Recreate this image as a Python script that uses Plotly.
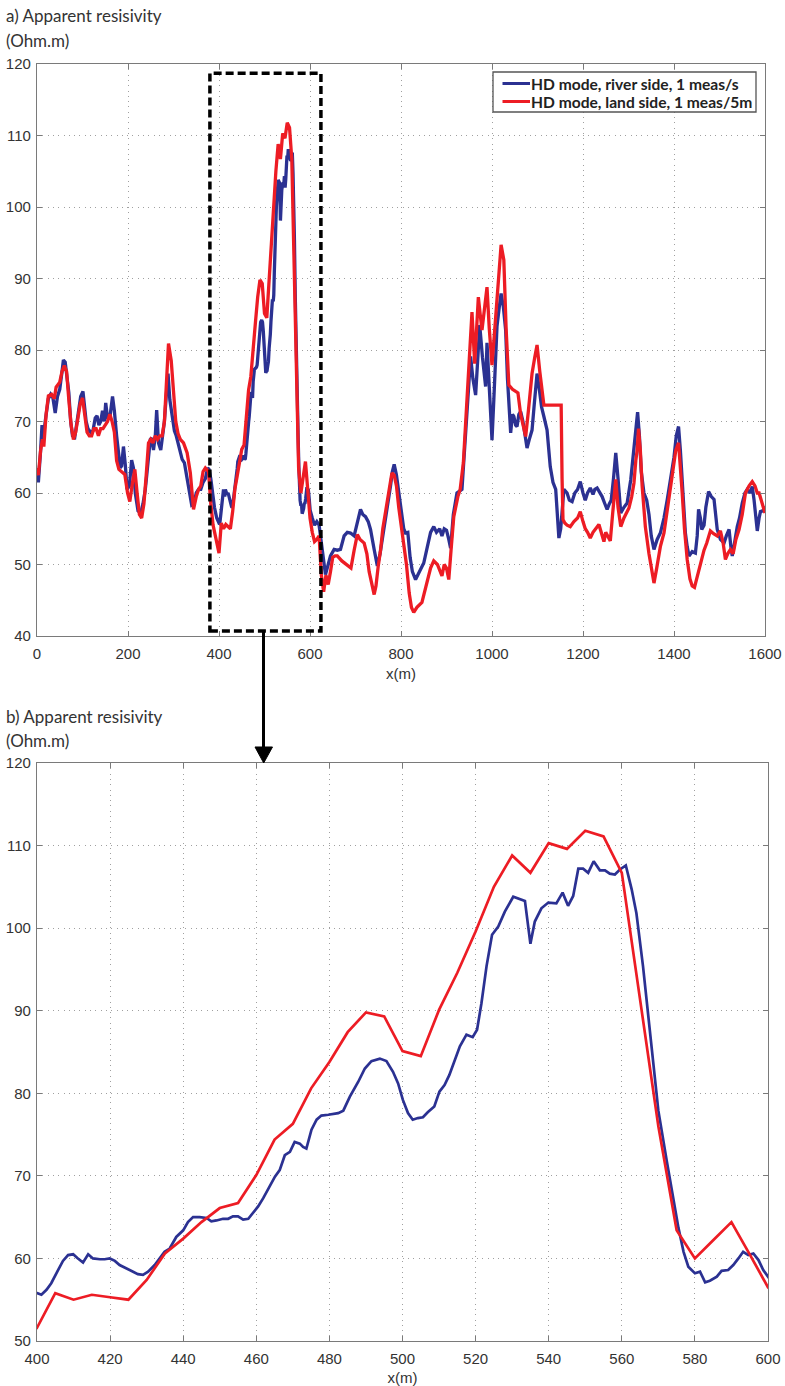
import plotly.graph_objects as go

# ---------------- data ----------------
blue_x = [0, 3, 8, 11, 14, 18, 25, 30, 35, 40, 45, 50, 55, 58, 62, 66, 70, 74, 78, 83, 88, 92, 96, 101, 104, 108,
          112, 118, 123, 128, 132, 136, 140, 144, 148, 151, 155, 160, 166, 170, 175, 179, 183, 186, 190, 194, 198,
          203, 208, 212, 216, 222, 228, 233, 238, 242, 246, 249, 252, 256, 260, 263, 267, 272, 276, 280, 284, 288,
          292, 297, 302, 306, 310, 315, 319, 324, 330, 336, 340, 345, 350, 355, 360, 365, 370, 375, 378, 382, 386,
          390, 395,
          400, 401.2, 402.6, 403.9, 405.3, 407.1, 408.5, 409.9, 411.2, 412.6, 414, 415.3, 417.2, 418.5, 419.9, 421.3,
          422.6, 424.5, 426.3, 427.6, 429, 430.4, 432.2, 433.6, 434.9, 436.3, 438.1, 440, 441.3, 442.7, 444.5, 446.4,
          447.7, 449.1, 450.9, 452.3, 453.6, 455, 456.4, 457.8, 459.1, 460.5, 461.9, 463.7, 465.1, 466.4, 467.8,
          469.2, 470.5, 471.9, 472.8, 473.7, 475.1, 476.5, 477.8, 479.7, 481, 482.4, 483.8, 485.6, 487.9, 489.7,
          491.5, 493.8, 495.6, 497.4, 498.8, 500.1, 501.5, 502.8, 504.2, 505.6, 506.9, 508.7, 510.1, 511.5, 512.8,
          514.2, 515.7, 517.5, 519.2, 520.4, 521.6, 523, 524.5, 526.2, 528, 530.3, 532.1, 533.5, 535, 536.2, 538,
          539.9, 542.1, 543.8, 545.3, 546.7, 548.1, 549.4, 550.8, 552.3, 554, 555.4, 556.7, 558.1, 559.5, 561.1,
          562.7, 564, 565.8, 567.7, 568.6, 570, 572.3, 574.1, 575.5, 576.9, 578.2, 580, 581.4, 582.8, 584.1, 586,
          587.3, 589.1, 590.5, 591.9, 593.2, 594.6, 596, 597.4, 598.7, 600.3,
          605, 610, 615, 620, 625, 630, 634, 640, 645, 653, 660, 667, 675, 682, 689, 697, 704, 711, 716, 722, 728,
          733, 741, 748, 754, 759, 765, 770, 777, 781, 785, 790, 795, 800, 806, 810, 815, 820, 825, 832, 840, 850,
          858, 865, 872, 878, 885, 890, 895, 900, 905, 909, 915, 923, 934, 941, 948, 953, 958, 964, 968, 973, 979,
          983, 986, 989, 993, 997, 1000, 1004, 1008, 1011, 1016, 1020, 1025, 1030, 1034, 1038, 1041, 1045, 1048,
          1052, 1055, 1059, 1063, 1068, 1073, 1077, 1082, 1088, 1093, 1099, 1104, 1109, 1114, 1121, 1128, 1134,
          1140, 1144, 1147, 1151, 1158, 1165, 1170, 1176, 1182, 1188, 1194, 1200, 1205, 1210, 1216, 1222, 1226,
          1231, 1237, 1242, 1248, 1253, 1258, 1262, 1267, 1272, 1277, 1283, 1290, 1297, 1305, 1312, 1317, 1320,
          1324, 1328, 1334, 1340, 1345, 1350, 1356, 1363, 1370, 1378, 1385, 1390, 1395, 1400, 1405, 1410, 1414,
          1418, 1422, 1425, 1429, 1433, 1440, 1447, 1451, 1454, 1458, 1461, 1466, 1470, 1476, 1482, 1488, 1492,
          1495, 1502, 1510, 1515, 1521, 1525, 1528, 1533, 1539, 1544, 1550, 1556, 1561, 1567, 1572, 1576, 1580,
          1583, 1587, 1590, 1595, 1600]
blue_y = [62.5, 61.5, 66, 69.5, 67.5, 70, 73.2, 73.8, 73.3, 71.2, 73.5, 74.5, 77, 78.6, 78.3, 76.5, 74, 70, 68, 67.8,
          70, 72, 73.5, 74.2, 72, 70, 69, 68.5, 68.7, 70.5, 70.8, 69.5, 70, 71.5, 70, 72.6, 70.5, 70.5, 73.5, 71.5,
          68, 65.5, 63.5, 63.8, 66.5, 64, 60.5, 61, 64.6, 63.5, 60, 57.5, 57.2, 58.5, 60.5, 63, 65.5, 67.5, 67.7, 66,
          68, 71.6, 67, 66, 68, 70, 73.5, 76.7, 73, 70.7, 68.7, 68, 67, 65.5, 64.7, 64.2, 62, 60, 58.3, 58.5, 60,
          60.5, 60.5, 61.5, 62, 63.5, 63.3, 62, 59.5, 58, 56.5,
          55.8, 55.6, 56.2, 57, 58.2, 59.7, 60.4, 60.5, 60, 59.5, 60.5, 60, 59.9, 59.9, 60, 59.7, 59.2, 58.8, 58.4,
          58.1, 58, 58.4, 59.2, 60, 60.8, 61.2, 62.6, 63.4, 64.4, 65, 65, 64.9, 64.5, 64.6, 64.8, 64.8, 65.1, 65.1,
          64.7, 64.8, 65.5, 66.3, 67.3, 68.7, 69.9, 70.7, 72.5, 72.9, 74.1, 73.9, 73.5, 73.3, 75.6, 76.8, 77.3, 77.4,
          77.5, 77.6, 77.9, 79.6, 81.4, 83, 83.9, 84.2, 83.9, 82.6, 81.2, 79.2, 77.6, 76.8, 77, 77.1, 77.7, 78.4,
          80.2, 81, 82.2, 84, 85.7, 87.1, 86.8, 87.7, 90.9, 95.4, 99.2, 100.2, 102, 103.8, 103.5, 103.3, 98.1, 100.8,
          102.4, 103.1, 103, 104.3, 102.7, 103.9, 107.2, 107.2, 106.7, 108.1, 107, 107, 106.6, 106.5, 107.1, 107.6,
          104.7, 101.8, 95.4, 87.3, 83.5, 77.9, 71.8, 67.3, 63.7, 60.8, 59, 58.2, 58.4, 57.1, 57.3, 57.8, 58.5, 58.6,
          59.2, 60, 60.8, 60.4, 60.6, 59.8, 58.6, 57.6,
          56.5, 55.5, 56, 55.5, 53, 50, 48.6, 50, 51.2, 52.1, 52, 52.1, 54, 54.5, 54.4, 54, 56, 57.7, 57, 56.7, 56,
          54.9, 52.1, 49.8, 51.5, 53.5, 56, 57.7, 61, 63, 64, 62.5, 60, 58, 55, 54.4, 54.5, 51, 49, 47.9, 49, 50.2,
          52.5, 54.5, 55.3, 54.5, 55, 54, 55, 54.8, 53.5, 52.3, 57, 60, 60.5, 67.9, 74, 79.1, 76, 73.7, 78, 83.5, 79,
          76, 74.9, 81, 76, 69, 67.4, 73, 79, 83.3, 86, 87.9, 86, 82.8, 76, 70.5, 68.4, 71, 70.7, 69.5, 69.3, 71,
          71.4, 70, 67.5, 66.3, 67.5, 68.8, 72.5, 76.7, 74.5, 72, 70.7, 68.8, 63.7, 61.5, 60.5, 56, 53.7, 55, 60.5,
          60, 59, 58.8, 60, 60.5, 61.6, 60, 59, 60, 60.7, 59.8, 60.5, 60.7, 60, 59.5, 58.5, 57.7, 58.5, 59, 62, 65.6,
          62, 57.2, 58, 58.6, 61.9, 66, 70, 71.3, 68, 63, 60, 59, 57, 54, 52.1, 53.5, 54.4, 56.5, 59, 61, 62.5, 65,
          68, 69.3, 66, 61, 57, 54.4, 52.5, 51.2, 51.8, 51.6, 54, 57.7, 56.5, 54.9, 55.5, 58, 60.2, 59.5, 59.1, 57,
          54.9, 53.5, 53, 54, 54.9, 52.5, 51.2, 53, 55.3, 56.5, 58.6, 60, 60.5, 60, 60.9, 59, 56, 54.7, 56.5, 57.4,
          57.5, 58.1]

red_x = [0, 3, 8, 12, 15, 20, 25, 32, 38, 42, 50, 55, 60, 65, 70, 75, 80, 85, 90, 95, 100, 105, 110, 115, 120, 125,
         130, 135, 140, 145, 150, 155, 160, 165, 170, 175, 180, 186, 193, 199, 204, 210, 215, 220, 225, 230, 235,
         240, 245, 250, 255, 260, 265, 270, 275, 280, 285, 289, 295, 300, 305, 310, 315, 322, 330, 337, 344, 350,
         355, 360, 365, 370, 377, 382, 387, 392, 396,
         400, 405, 410, 415, 420, 425, 430, 435, 440, 445, 450, 455, 460, 465, 470, 475, 480, 485, 490, 495, 500,
         505, 510, 515, 520, 525, 530, 535, 540, 545, 550, 555, 560, 565, 570, 575, 580, 585, 590, 595, 600,
         605, 610, 615, 620, 625, 630, 635, 640, 645, 650, 655, 660, 670, 680, 690, 697, 704, 710, 719, 725, 730,
         741, 745, 750, 755, 760, 770, 780, 785, 790, 795, 800, 806, 812, 818, 823, 828, 835, 846, 857, 865, 872,
         880, 890, 895, 900, 905, 910, 916, 925, 930, 937, 942, 947, 951, 956, 962, 966, 970, 974, 978, 983, 989,
         994, 1000, 1005, 1011, 1016, 1020, 1026, 1031, 1037, 1045, 1052, 1057, 1063, 1069, 1074, 1080, 1088,
         1094, 1099, 1105, 1110, 1114, 1130, 1152, 1154, 1156, 1160, 1165, 1172, 1180, 1188, 1194, 1200, 1205,
         1210, 1216, 1222, 1228, 1235, 1240, 1246, 1250, 1255, 1260, 1265, 1270, 1272, 1277, 1283, 1290, 1301,
         1307, 1312, 1316, 1319, 1322, 1326, 1330, 1337, 1345, 1350, 1356, 1362, 1370, 1378, 1385, 1393, 1398,
         1404, 1410, 1414, 1418, 1423, 1429, 1435, 1440, 1445, 1451, 1458, 1466, 1472, 1480, 1487, 1495, 1502,
         1508, 1513, 1518, 1524, 1530, 1536, 1543, 1550, 1557, 1565, 1572, 1578, 1583, 1587, 1592, 1600]
red_y = [63.5, 62.5, 66, 67.5, 66.5, 71, 73.6, 73.8, 73.2, 74.8, 75.5, 77, 77.8, 77, 73, 69.5, 67.5, 68.5, 70.5,
         72.5, 73.3, 70.5, 68.5, 68, 68, 69, 69, 68, 69, 69, 69.5, 70, 71, 70, 68.5, 64.5, 63.3, 63, 62.6, 60, 58.8,
         61.5, 63.3, 60, 57, 56.5, 58.5, 62.5, 67, 67.5, 67, 68, 67.5, 68, 68, 70, 76, 80.9, 78.5, 74, 70, 68.3,
         67.5, 67, 65.6, 62.8, 57.7, 59.5, 60.5, 61, 63, 63.5, 63, 58.5, 55.5, 54, 52.5,
         51.6, 55.8, 55, 55.6, 55.3, 55, 57.4, 60.6, 62.4, 64.4, 66.1, 66.7, 70.1, 74.4, 76.3, 80.6, 83.8, 87.4,
         89.8, 89.3, 85.1, 84.5, 90.1, 94.6, 99.6, 105, 108.8, 106.7, 110.3, 109.6, 111.8, 111.1, 106.7, 91.3, 76,
         63.4, 60, 62.2, 64.4, 60.5, 56.5,
         54.5, 53.2, 53.5, 54, 48.5, 46.2, 48.5, 47.2, 49, 51, 51.2, 51.2, 50.5, 50, 49.5, 52, 54.2, 53.5, 53, 51.5,
         49, 45.8, 47, 49.8, 52, 55, 59, 62.8, 62.5, 61, 58, 55.5, 53, 50, 46, 44, 43.3, 44, 44.7, 47.4, 49.5, 50.5,
         50, 48.4, 50, 49.5, 47.9, 52, 56.7, 59.5, 60.5, 64.2, 70, 75, 79.1, 85.3, 78.1, 82, 87.4, 85, 82.8, 85.5,
         88.8, 83, 77.9, 82, 87.4, 91, 94.7, 92.6, 83, 75.1, 74.5, 74.2, 74, 71, 69, 67.9, 71.5, 76.7, 79, 80.7, 77,
         74, 72.3, 72.3, 72.3, 62, 56.3, 55.8, 55.5, 55.3, 56, 56.5, 57.4, 56, 55, 54.5, 53.7, 54.5, 55, 55.6, 54.5,
         53.2, 54.5, 54, 53.3, 57, 61.5, 61.9, 58, 55.3, 56.5, 57.9, 59.5, 61.4, 64.5, 66, 69, 66, 61, 55.3, 51.5,
         49.5, 47.4, 49.5, 52.5, 54.4, 57.5, 61.4, 63.5, 66, 67, 64, 60, 55, 50.7, 48, 47, 46.8, 48.4, 50, 52, 53,
         54.7, 54.3, 54, 54.7, 53, 50.7, 51.5, 52.1, 51.5, 53.5, 54.9, 57, 60, 61, 61.6, 61, 60, 60, 59, 57.2]

series_names = ["HD mode, river side, 1 meas/s", "HD mode, land side, 1 meas/5m"]
title_a = ["a) Apparent resisivity", "(Ohm.m)"]
title_b = ["b) Apparent resisivity", "(Ohm.m)"]
x_label = "x(m)"
zoom_window = (380, 624, 40.7, 118.7)  # dashed box in top-chart data units

BLUE = "#2b3192"
RED = "#ed1c24"

# ---------------- layout geometry ----------------
W, H = 785, 1386
ML, MR, MT, MB = 37, 17, 64, 45
PW, PH = W - ML - MR, H - MT - MB


def px2x(px):
    return (px - ML) / PW


def py2y(py):
    return (H - MB - py) / PH


fig = go.Figure()
for xa, ya, lw in (("x", "y", 3.3), ("x2", "y2", 2.7)):
    fig.add_trace(go.Scatter(x=blue_x, y=blue_y, mode="lines", line=dict(color=BLUE, width=lw),
                             xaxis=xa, yaxis=ya, showlegend=False, name=series_names[0]))
    fig.add_trace(go.Scatter(x=red_x, y=red_y, mode="lines", line=dict(color=RED, width=lw),
                             xaxis=xa, yaxis=ya, showlegend=False, name=series_names[1]))

tickfont = dict(family="Liberation Sans, Arial, sans-serif", size=15, color="#333333")
axis_common = dict(showline=True, linecolor="#7a7a7a", linewidth=1.3, mirror="ticks", ticks="inside",
                   ticklen=5, tickwidth=1.2, tickcolor="#7a7a7a", showgrid=True, gridcolor="#a0a0a0",
                   griddash="1px,4.3px", gridwidth=1, zeroline=False, tickfont=tickfont, automargin=False)
xaxis_common = dict(ticklabelstandoff=4, title=dict(text=x_label, font=tickfont, standoff=7), **axis_common)
yaxis_common = dict(ticklabelstandoff=2, **axis_common)

fig.update_layout(
    width=W, height=H, margin=dict(l=ML, r=MR, t=MT, b=MB, autoexpand=False),
    paper_bgcolor="white", plot_bgcolor="white",
    xaxis=dict(domain=[0, px2x(765)], range=[0, 1600], dtick=200, anchor="y", **xaxis_common),
    yaxis=dict(domain=[py2y(636), 1], range=[40, 120], dtick=10, anchor="x", **yaxis_common),
    xaxis2=dict(domain=[0, 1], range=[400, 600], dtick=20, anchor="y2", **xaxis_common),
    yaxis2=dict(domain=[0, py2y(763)], range=[50, 120], dtick=10, anchor="x2", **yaxis_common),
)

title_font = dict(family="Lato, Open Sans, sans-serif", size=17, color="#333333")
annotations = []
for lines, pys in ((title_a, (15, 40)), (title_b, (716, 740))):
    for txt, py in zip(lines, pys):
        annotations.append(dict(text=txt, x=px2x(4), y=py2y(py), xref="paper", yref="paper",
                                xanchor="left", yanchor="middle", showarrow=False, font=title_font))

# legend (drawn by hand to match the boxed MATLAB legend)
legend_font = dict(family="Lato, Open Sans, sans-serif", size=15.6, color="#222222")
shapes = [dict(type="rect", xref="paper", yref="paper", x0=px2x(493), x1=px2x(756), y0=py2y(112), y1=py2y(72),
               line=dict(color="#555555", width=1.3), fillcolor="white", layer="above")]
for name, col, py in ((series_names[0], BLUE, 83.5), (series_names[1], RED, 101.5)):
    shapes.append(dict(type="line", xref="paper", yref="paper", x0=px2x(502.5), x1=px2x(530), y0=py2y(py),
                       y1=py2y(py), line=dict(color=col, width=3), layer="above"))
    annotations.append(dict(text="<b>%s</b>" % name, x=px2x(528.5), y=py2y(py), xref="paper", yref="paper",
                            xanchor="left", yanchor="middle", showarrow=False, font=legend_font))

# dashed zoom window on top chart
x0, x1, y0, y1 = zoom_window
shapes.append(dict(type="rect", xref="x", yref="y", x0=x0, x1=x1, y0=y0, y1=y1,
                   line=dict(color="black", width=3.5, dash="8px,4px"), layer="above"))
# arrow from window to lower chart
shapes.append(dict(type="line", xref="paper", yref="paper", x0=px2x(263.5), x1=px2x(263.5),
                   y0=py2y(632), y1=py2y(750), line=dict(color="black", width=3)))
shapes.append(dict(type="path", xref="paper", yref="paper",
                   path="M %f %f L %f %f L %f %f Z" % (px2x(255), py2y(747), px2x(272.5), py2y(747),
                                                       px2x(263.7), py2y(763)),
                   fillcolor="black", line=dict(color="black", width=1)))

fig.update_layout(shapes=shapes, annotations=annotations)

fig.write_html("out.html", config={"displayModeBar": False},
               post_script="document.body.style.margin='0';")
